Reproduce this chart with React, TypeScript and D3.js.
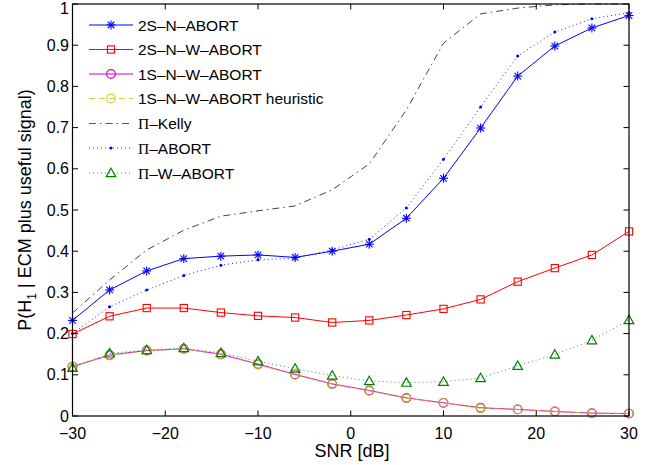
import React from "react";
import * as d3 from "d3";

const snr = [-30, -26, -22, -18, -14, -10, -6, -2, 2, 6, 10, 14, 18, 22, 26, 30];
const twoSNAbort = [0.232, 0.306, 0.352, 0.382, 0.388, 0.391, 0.385, 0.4, 0.417, 0.48, 0.577, 0.699, 0.825, 0.898, 0.942, 0.972];
const twoSNWAbort = [0.199, 0.242, 0.262, 0.262, 0.251, 0.243, 0.239, 0.227, 0.232, 0.245, 0.26, 0.283, 0.326, 0.359, 0.391, 0.448];
const oneSNWAbort = [0.12, 0.148, 0.159, 0.163, 0.15, 0.126, 0.101, 0.078, 0.062, 0.044, 0.032, 0.02, 0.016, 0.011, 0.007, 0.006];
const oneSNWAbortHeur = [0.12, 0.147, 0.158, 0.163, 0.149, 0.125, 0.1, 0.077, 0.061, 0.043, 0.032, 0.019, 0.016, 0.011, 0.007, 0.006];
const piKelly = [0.25, 0.33, 0.403, 0.451, 0.485, 0.498, 0.51, 0.549, 0.612, 0.743, 0.905, 0.976, 0.99, 0.998, 1.0, 1.0];
const piAbort = [0.2, 0.265, 0.306, 0.341, 0.366, 0.379, 0.383, 0.403, 0.429, 0.505, 0.623, 0.75, 0.874, 0.932, 0.964, 0.979];
const piWAbort = [0.117, 0.152, 0.16, 0.165, 0.153, 0.133, 0.115, 0.098, 0.085, 0.081, 0.083, 0.092, 0.122, 0.149, 0.184, 0.233];

const xTicks = [-30, -20, -10, 0, 10, 20, 30];
const yTicks = [0, 0.1, 0.2, 0.3, 0.4, 0.5, 0.6, 0.7, 0.8, 0.9, 1];

type Marker = "star" | "square" | "circle" | "dot" | "triangle" | "none";
interface Series {
  name: string;
  pi?: boolean;
  values: number[];
  color: string;
  markerColor: string;
  legendColor: string;
  dash?: string;
  marker: Marker;
}

const series: Series[] = [
  { name: "2S\u2013N\u2013ABORT", values: twoSNAbort, color: "#0000ff", markerColor: "#0000ff", legendColor: "#0000ff", marker: "star" },
  { name: "2S\u2013N\u2013W\u2013ABORT", values: twoSNWAbort, color: "#ff0000", markerColor: "#ff0000", legendColor: "#ff0000", marker: "square" },
  { name: "1S\u2013N\u2013W\u2013ABORT", values: oneSNWAbort, color: "#e000e0", markerColor: "#d000d0", legendColor: "#d000d0", marker: "circle" },
  { name: "1S\u2013N\u2013W\u2013ABORT heuristic", values: oneSNWAbortHeur, color: "#c8a838", markerColor: "#c9a030", legendColor: "#d0d040", dash: "6,4", marker: "circle" },
  { name: "\u2013Kelly", pi: true, values: piKelly, color: "#444444", markerColor: "#444444", legendColor: "#555555", dash: "7,4,1.5,4", marker: "none" },
  { name: "\u2013ABORT", pi: true, values: piAbort, color: "#2020ff", markerColor: "#0000ff", legendColor: "#2020ff", dash: "1,3", marker: "dot" },
  { name: "\u2013W\u2013ABORT", pi: true, values: piWAbort, color: "#30a030", markerColor: "#008000", legendColor: "#30a030", dash: "1,3", marker: "triangle" },
];

const L = 72.5, R = 629, T = 4, B = 416;
const x = d3.scaleLinear().domain([-30, 30]).range([L, R]);
const y = d3.scaleLinear().domain([0, 1]).range([B, T]);

function MarkerShape({ type, cx, cy, color }: { type: Marker; cx: number; cy: number; color: string }) {
  if (type === "star") {
    const r = 4.5, d = r * 0.72;
    return (
      <g stroke={color} strokeWidth={1.1}>
        <line x1={cx - r} y1={cy} x2={cx + r} y2={cy} />
        <line x1={cx} y1={cy - r} x2={cx} y2={cy + r} />
        <line x1={cx - d} y1={cy - d} x2={cx + d} y2={cy + d} />
        <line x1={cx - d} y1={cy + d} x2={cx + d} y2={cy - d} />
      </g>
    );
  }
  if (type === "square") {
    const s = 3.6;
    return <rect x={cx - s} y={cy - s} width={2 * s} height={2 * s} fill="none" stroke={color} strokeWidth={1.1} />;
  }
  if (type === "circle") {
    return <circle cx={cx} cy={cy} r={4.3} fill="none" stroke={color} strokeWidth={1.2} />;
  }
  if (type === "dot") {
    return <circle cx={cx} cy={cy} r={1.5} fill={color} />;
  }
  if (type === "triangle") {
    const h = 4.8;
    const p = `${cx},${cy - h} ${cx + h},${cy + h * 0.75} ${cx - h},${cy + h * 0.75}`;
    return <polygon points={p} fill="none" stroke={color} strokeWidth={1.2} />;
  }
  return null;
}

export default function App() {
  const line = d3.line<number>().x((_, i) => x(snr[i])).y((v) => y(v));
  const font = "'Liberation Sans', Arial, Helvetica, sans-serif";
  const legendX0 = 89, legendX1 = 133, legendTextX = 138;
  const legendY = [25, 49.5, 74, 98.5, 123.5, 148, 173];

  return (
    <svg width={663} height={465} style={{ position: "absolute", left: 0, top: 0 }} fontFamily={font}>
      <rect x={0} y={0} width={663} height={465} fill="#ffffff" />
      {series.map((s, si) => (
        <g key={si}>
          <path d={line(s.values) || ""} fill="none" stroke={s.color} strokeWidth={1} strokeDasharray={s.dash} />
          {s.marker !== "none" &&
            s.values.map((v, i) => <MarkerShape key={i} type={s.marker} cx={x(snr[i])} cy={y(v)} color={s.markerColor} />)}
        </g>
      ))}
      <rect x={L} y={T} width={R - L} height={B - T} fill="none" stroke="#000" strokeWidth={1.2} />
      {xTicks.map((t) => (
        <g key={"x" + t}>
          <line x1={x(t)} x2={x(t)} y1={B} y2={B - 5.5} stroke="#000" strokeWidth={1} />
          <line x1={x(t)} x2={x(t)} y1={T} y2={T + 5.5} stroke="#000" strokeWidth={1} />
          <text x={x(t)} y={439} textAnchor="middle" fontSize={16} fill="#000">
            {t < 0 ? "\u2212" + Math.abs(t) : String(t)}
          </text>
        </g>
      ))}
      {yTicks.map((t) => (
        <g key={"y" + t}>
          <line x1={L} x2={L + 5.5} y1={y(t)} y2={y(t)} stroke="#000" strokeWidth={1} />
          <line x1={R} x2={R - 5.5} y1={y(t)} y2={y(t)} stroke="#000" strokeWidth={1} />
          <text x={69} y={Math.max(y(t) + 5.5, 13.5)} textAnchor="end" fontSize={16} fill="#000">
            {t === 0 || t === 1 ? String(t) : t.toFixed(1)}
          </text>
        </g>
      ))}
      <text x={352} y={457} textAnchor="middle" fontSize={18} fill="#000">SNR [dB]</text>
      <text transform={`translate(31,210) rotate(-90)`} textAnchor="middle" fontSize={18} fill="#000">
        P(H<tspan fontSize={12} dy={5}>1</tspan>
        <tspan dy={-5}> | ECM plus useful signal)</tspan>
      </text>
      {series.map((s, i) => {
        const ly = legendY[i];
        const cx = (legendX0 + legendX1) / 2;
        return (
          <g key={"lg" + i}>
            <line x1={legendX0} x2={legendX1} y1={ly} y2={ly} stroke={s.legendColor} strokeWidth={1} strokeDasharray={s.dash} />
            {s.marker !== "none" && (
              <MarkerShape type={s.marker} cx={cx} cy={ly} color={s.marker === "circle" ? s.legendColor : s.markerColor} />
            )}
            <text x={legendTextX} y={ly + 5.5} fontSize={15.5} fill="#000">
              {s.pi && <tspan fontFamily="'Liberation Serif', 'Times New Roman', serif">{"\u03A0"}</tspan>}
              {s.name}
            </text>
          </g>
        );
      })}
    </svg>
  );
}
